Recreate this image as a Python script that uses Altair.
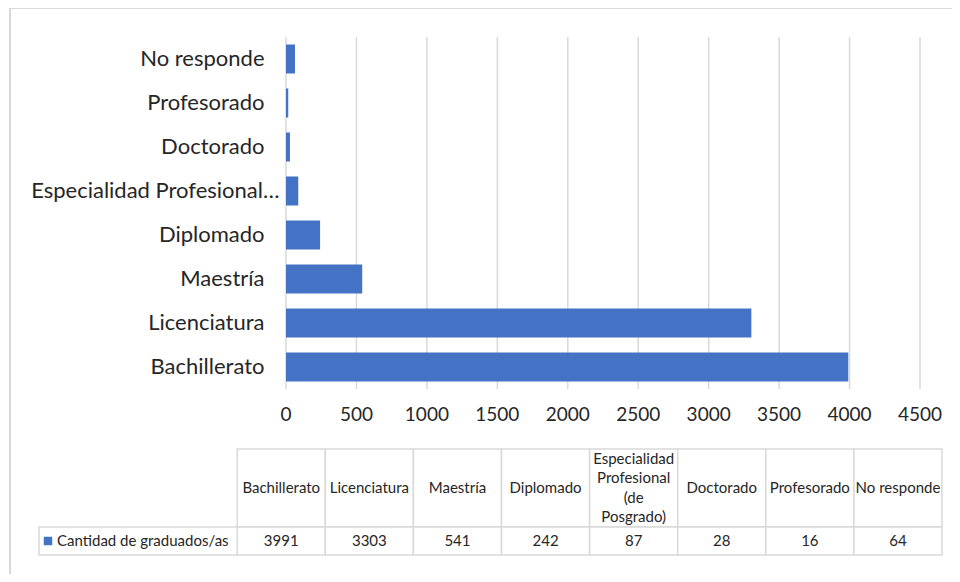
import altair as alt
import pandas as pd

# ---- data ----
categories = ["Bachillerato", "Licenciatura", "Maestría", "Diplomado",
              "Especialidad Profesional (de Posgrado)", "Doctorado",
              "Profesorado", "No responde"]
values = [3991, 3303, 541, 242, 87, 28, 16, 64]
tick_values = [0, 500, 1000, 1500, 2000, 2500, 3000, 3500, 4000, 4500]
series_name = "Cantidad de graduados/as"
header_lines = {"Especialidad Profesional (de Posgrado)": ["Especialidad", "Profesional", "(de", "Posgrado)"]}

BLUE = "#4472C4"
GRID = "#D9D9D9"
TXT = "#262626"
FONT = "Lato"
W, H = 942, 566

bar_order = list(reversed(categories))
bars_df = pd.DataFrame({"category": categories, "value": values})
grid_df = pd.DataFrame({"tick": tick_values, "label": [str(t) for t in tick_values]})

x_bar = alt.Scale(domain=[0, 4500], range=[276, 910], nice=False, zero=True)
y_bar = alt.Scale(domain=bar_order, range=[29, 381], paddingInner=0.34, paddingOuter=0.17)

grid = alt.Chart(grid_df).mark_rule(color=GRID, strokeWidth=1.5).encode(
    x=alt.X("tick:Q", scale=x_bar, axis=None),
    y=alt.value(29), y2=alt.value(381),
)
tick_labels = alt.Chart(grid_df).mark_text(fontSize=19, font=FONT, color=TXT, baseline="middle").encode(
    x=alt.X("tick:Q", scale=x_bar, axis=None),
    y=alt.value(407),
    text="label",
)

LONG = "Especialidad Profesional (de Posgrado)"
bars = alt.Chart(bars_df).mark_bar(color=BLUE).encode(
    x=alt.X("value:Q", scale=x_bar, axis=None),
    y=alt.Y("category:N", sort=bar_order, scale=y_bar,
            axis=alt.Axis(title=None, domain=False, ticks=False, grid=False,
                          labelFontSize=22, labelFont=FONT, labelColor=TXT,
                          labelPadding={"condition": {"test": f"datum.value == '{LONG}'", "value": 7},
                                        "value": 22},
                          offset=-276, labelLimit=400,
                          labelExpr=f"datum.label == '{LONG}' ? 'Especialidad Profesional…' : datum.label")),
)

# ---- data table ----
HEAD_H = 78
ROW_H = 28
LINE_H = 19.5
cells = []
for i, c in enumerate(categories):
    cells.append({"x": i, "x2": i + 1, "y": 0, "y2": HEAD_H})
    cells.append({"x": i, "x2": i + 1, "y": HEAD_H, "y2": HEAD_H + ROW_H})
cells.append({"x": -2.25, "x2": 0, "y": HEAD_H, "y2": HEAD_H + ROW_H})
cells_df = pd.DataFrame(cells)

head_rows = []
for i, c in enumerate(categories):
    lines = header_lines.get(c, [c])
    n = len(lines)
    for k, ln in enumerate(lines):
        head_rows.append({"xc": i + 0.5, "yc": HEAD_H / 2 + (k - (n - 1) / 2) * LINE_H, "label": ln})
head_df = pd.DataFrame(head_rows)
val_df = pd.DataFrame({
    "xc": [i + 0.5 for i in range(len(categories))],
    "yc": [HEAD_H + ROW_H / 2] * len(categories),
    "label": [str(v) for v in values],
})
leg_df = pd.DataFrame({"xc": [-2.25], "yc": [HEAD_H + ROW_H / 2], "label": [series_name]})

x_tab = alt.Scale(domain=[-2.25, 8], range=[29, 932], nice=False, zero=False)
y_tab = alt.Scale(domain=[0, HEAD_H + ROW_H], range=[441, 547], nice=False, zero=False)

cell_layer = alt.Chart(cells_df).mark_rect(fill="white", stroke=GRID, strokeWidth=1.5).encode(
    x=alt.X("x:Q", scale=x_tab, axis=None), x2="x2:Q",
    y=alt.Y("y:Q", scale=y_tab, axis=None), y2="y2:Q",
)
head_layer = alt.Chart(head_df).mark_text(fontSize=15, font=FONT, color=TXT, baseline="middle").encode(
    x=alt.X("xc:Q", scale=x_tab, axis=None),
    y=alt.Y("yc:Q", scale=y_tab, axis=None),
    text="label",
)
val_layer = alt.Chart(val_df).mark_text(fontSize=15, font=FONT, color=TXT, baseline="middle").encode(
    x=alt.X("xc:Q", scale=x_tab, axis=None),
    y=alt.Y("yc:Q", scale=y_tab, axis=None),
    text="label",
)
leg_sq = alt.Chart(leg_df).mark_square(size=72, color=BLUE, opacity=1, xOffset=9).encode(
    x=alt.X("xc:Q", scale=x_tab, axis=None),
    y=alt.Y("yc:Q", scale=y_tab, axis=None),
)
leg_txt = alt.Chart(leg_df).mark_text(fontSize=15, font=FONT, color=TXT, align="left",
                                      baseline="middle", dx=18).encode(
    x=alt.X("xc:Q", scale=x_tab, axis=None),
    y=alt.Y("yc:Q", scale=y_tab, axis=None),
    text="label",
)

# chart frame (top and left edges; right/bottom fall outside the picture in the reference)
frame_top = alt.Chart(grid_df).mark_rule(color=GRID, strokeWidth=2).encode(
    x=alt.value(0), x2=alt.value(W), y=alt.value(0))
frame_left = alt.Chart(grid_df).mark_rule(color=GRID, strokeWidth=2).encode(
    x=alt.value(0), y=alt.value(0), y2=alt.value(H))

top = alt.layer(grid, tick_labels, bars)
table = alt.layer(cell_layer, head_layer, val_layer, leg_sq, leg_txt)

chart = alt.layer(frame_top, frame_left, top, table).resolve_scale(x="independent", y="independent").properties(
    width=W, height=H,
    autosize=alt.AutoSizeParams(type="none"),
    padding={"left": 2, "top": 0, "right": 0, "bottom": 0},
).configure_view(strokeWidth=0).configure(background="white")

chart.save("out.html", embed_options={"renderer": "svg", "actions": False})
